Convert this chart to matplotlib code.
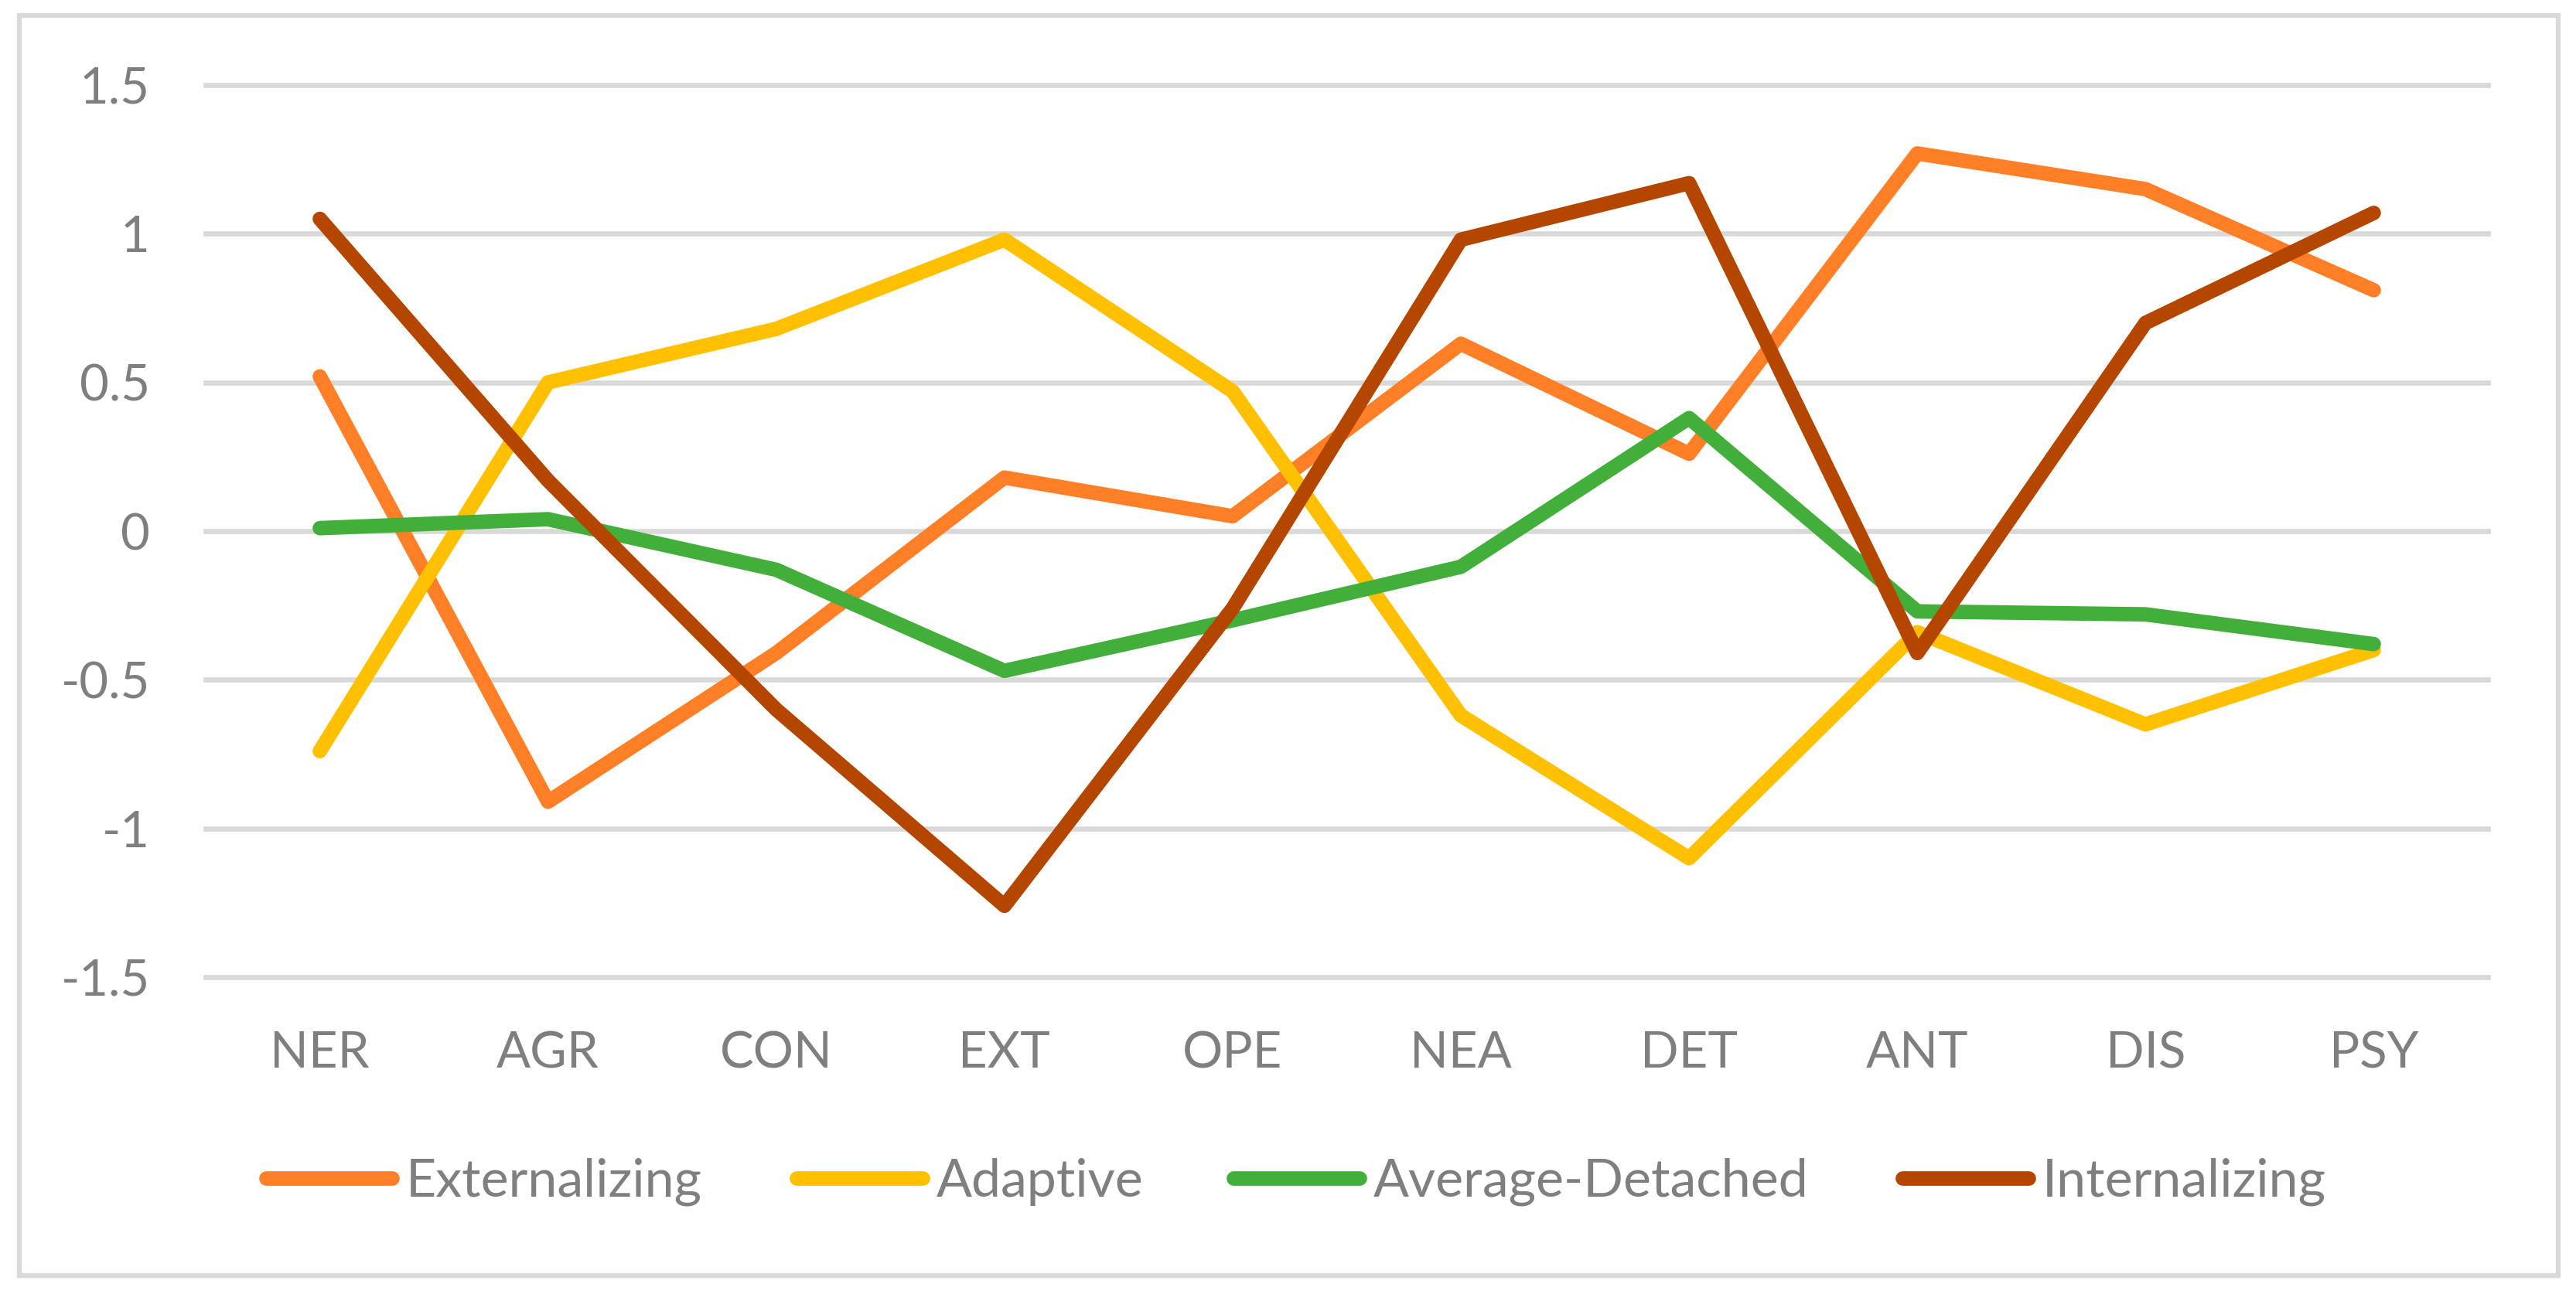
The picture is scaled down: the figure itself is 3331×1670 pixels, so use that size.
import matplotlib.pyplot as plt
from matplotlib.lines import Line2D
from matplotlib.patches import Rectangle

# scale scores per personality profile
traits = ['NER', 'AGR', 'CON', 'EXT', 'OPE', 'NEA', 'DET', 'ANT', 'DIS', 'PSY']

externalizing = [0.52, -0.91, -0.41, 0.18, 0.05, 0.63, 0.26, 1.27, 1.15, 0.81]
adaptive = [-0.74, 0.50, 0.68, 0.98, 0.47, -0.62, -1.10, -0.34, -0.65, -0.40]
average_detached = [0.01, 0.04, -0.13, -0.47, -0.30, -0.12, 0.38, -0.27, -0.28, -0.38]
internalizing = [1.05, 0.17, -0.60, -1.26, -0.26, 0.98, 1.17, -0.41, 0.70, 1.07]

y_ticks = [-1.5, -1, -0.5, 0, 0.5, 1, 1.5]
y_tick_labels = ['-1.5', '-1', '-0.5', '0', '0.5', '1', '1.5']

series = [
    ('Externalizing', externalizing, '#FF7F27'),
    ('Adaptive', adaptive, '#FFC000'),
    ('Average-Detached', average_detached, '#43AF3B'),
    ('Internalizing', internalizing, '#B54600'),
]

W, H = 3331, 1670
plt.rcParams['font.family'] = ['Lato', 'DejaVu Sans']
text_gray = '#7F7F7F'
grid_gray = '#D9D9D9'
fs = 47
line_w = 13.5

fig = plt.figure(figsize=(W / 100, H / 100), dpi=100)
ax = fig.add_axes([266 / W, 1 - 1264 / H, (3217 - 266) / W, (1264 - 110) / H])

x = list(range(len(traits)))
for name, vals, col in series:
    ax.plot(x, vals, color=col, lw=line_w, solid_capstyle='round',
            solid_joinstyle='round', label=name)

ax.set_xlim(-0.5, len(traits) - 0.5)
ax.set_ylim(-1.5, 1.5)
ax.set_xticks(x)
ax.set_xticklabels(traits)
ax.set_yticks(y_ticks)
ax.set_yticklabels(y_tick_labels)
ax.tick_params(length=0, labelsize=fs, labelcolor=text_gray, pad=52)
ax.tick_params(axis='x', pad=50)

ax.set_axisbelow(True)
ax.yaxis.grid(True, color=grid_gray, lw=4.8)
for gl in ax.get_ygridlines():
    gl.set_clip_on(False)
for s in ax.spines.values():
    s.set_visible(False)

# legend entries placed one by one, like the Excel layout
handle_starts = [340, 1026, 1591, 2456]
for (name, vals, col), xs in zip(series, handle_starts):
    h = Line2D([], [], color=col, lw=line_w, solid_capstyle='round')
    fig.legend([h], [name], loc='center left',
               bbox_to_anchor=((xs + 4) / W, 1 - 1529 / H),
               frameon=False, fontsize=49, labelcolor=text_gray,
               handlelength=2.4, handletextpad=0.25, borderpad=0,
               borderaxespad=0)

# outer chart border
fig.add_artist(Rectangle((24.5 / W, 1 - 1649.5 / H), (3308 - 24.5) / W,
                         (1649.5 - 20) / H, transform=fig.transFigure,
                         fill=False, edgecolor=grid_gray, lw=4.5))

fig.savefig('out.png', dpi=100)
